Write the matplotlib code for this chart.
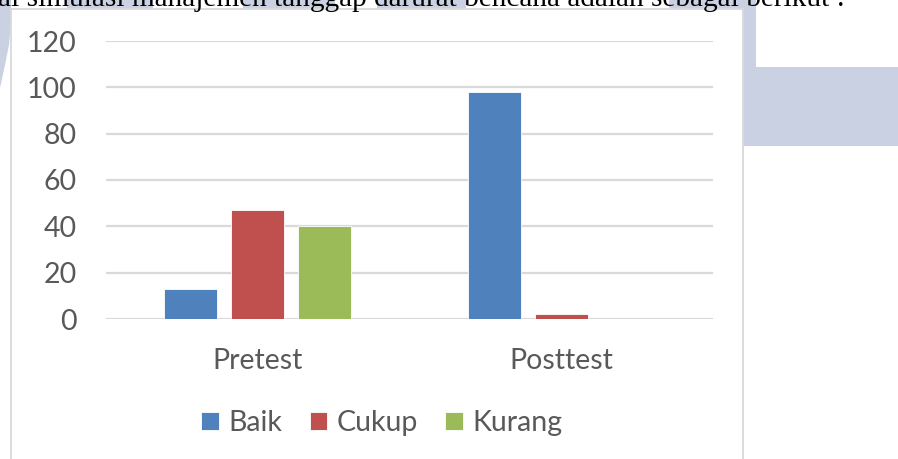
import matplotlib
matplotlib.use("Agg")
import matplotlib.pyplot as plt
import numpy as np
from matplotlib.patches import Rectangle, Polygon

# data
categories = ["Pretest", "Posttest"]
series = ["Baik", "Cukup", "Kurang"]
baik = [13, 98]
cukup = [47, 2]
kurang = [40, 0]
yticks = [0, 20, 40, 60, 80, 100, 120]
caption = "ai simulasi manajemen tanggap darurat bencana adalah sebagai berikut :"

colors = ["#4F81BD", "#C0504D", "#9BBB59"]
text_gray = "#595959"
grid_gray = "#D9D9D9"
wm_color = "#C9D1E3"
fsize = 20.5

W, H = 898, 459
fig = plt.figure(figsize=(W / 100, H / 100), dpi=100)
fig.patch.set_facecolor("white")


def px(x, y):
    # pixel coords (top-left origin) -> figure fraction
    return x / W, 1 - y / H


# background watermark shapes of the scanned page
pix = fig.transFigure
wm_boxes = [(67, 0, 86, 9), (243, 0, 92, 9), (377, 0, 89, 9), (669, 0, 87, 9),
            (743, 0, 13, 67), (743, 67, 155, 79)]
for x0, y0, w, h in wm_boxes:
    fx, fy = px(x0, y0 + h)
    fig.patches.append(Rectangle((fx, fy), w / W, h / H, transform=pix,
                                 facecolor=wm_color, edgecolor="none", zorder=0))
left_shape = [px(0, 0), px(11, 0), px(11, 25), px(9, 45), px(5, 65), px(0, 88)]
fig.patches.append(Polygon(left_shape, closed=True, transform=pix,
                           facecolor=wm_color, edgecolor="none", zorder=0))

# chart box
bx, by = px(11, 470)
fig.patches.append(Rectangle((bx, by), (743 - 11) / W, (470 - 9) / H, transform=pix,
                             facecolor="white", edgecolor=grid_gray, lw=1.3, zorder=1))

# caption text of the page, cut at the top
tx, ty = px(-2, 6)
cap = fig.text(tx, ty, caption, family="Liberation Serif", fontsize=16,
               color="black", va="baseline", ha="left", zorder=2)
fig.canvas.draw()
ext = cap.get_window_extent()
cap.set_fontsize(16 * (845 + 2) / ext.width)

# plot area
ax = fig.add_axes([106 / W, 1 - 319 / H, 607 / W, 278 / H], zorder=3)
ax.patch.set_visible(False)

x = np.arange(len(categories))
width = 0.175
step = 0.221
for i, (name, vals) in enumerate(zip(series, [baik, cukup, kurang])):
    ax.bar(x + (i - 1) * step, vals, width, color=colors[i], label=name,
           edgecolor="white", linewidth=0.6, zorder=3)

ax.set_xlim(-0.5, 1.5)
ax.set_ylim(0, 120)
ax.set_yticks(yticks)
ax.set_xticks(x)
ax.set_xticklabels(categories)
ax.yaxis.grid(True, color=grid_gray, linewidth=1.6)
ax.set_axisbelow(True)
for s in ax.spines.values():
    s.set_visible(False)
ax.tick_params(axis="both", length=0, labelsize=fsize, labelcolor=text_gray)
ax.tick_params(axis="y", pad=21)
ax.tick_params(axis="x", pad=21)
for lab in ax.get_xticklabels() + ax.get_yticklabels():
    lab.set_family("Lato")

lx, ly = px(382, 423)
leg = fig.legend(loc="center", bbox_to_anchor=(lx, ly), ncol=3, frameon=False,
                 prop={"family": "Lato", "size": fsize}, handlelength=0.63,
                 handleheight=0.63, handletextpad=0.33, columnspacing=0.95)
for t in leg.get_texts():
    t.set_color(text_gray)

fig.savefig("out.png", dpi=100)
